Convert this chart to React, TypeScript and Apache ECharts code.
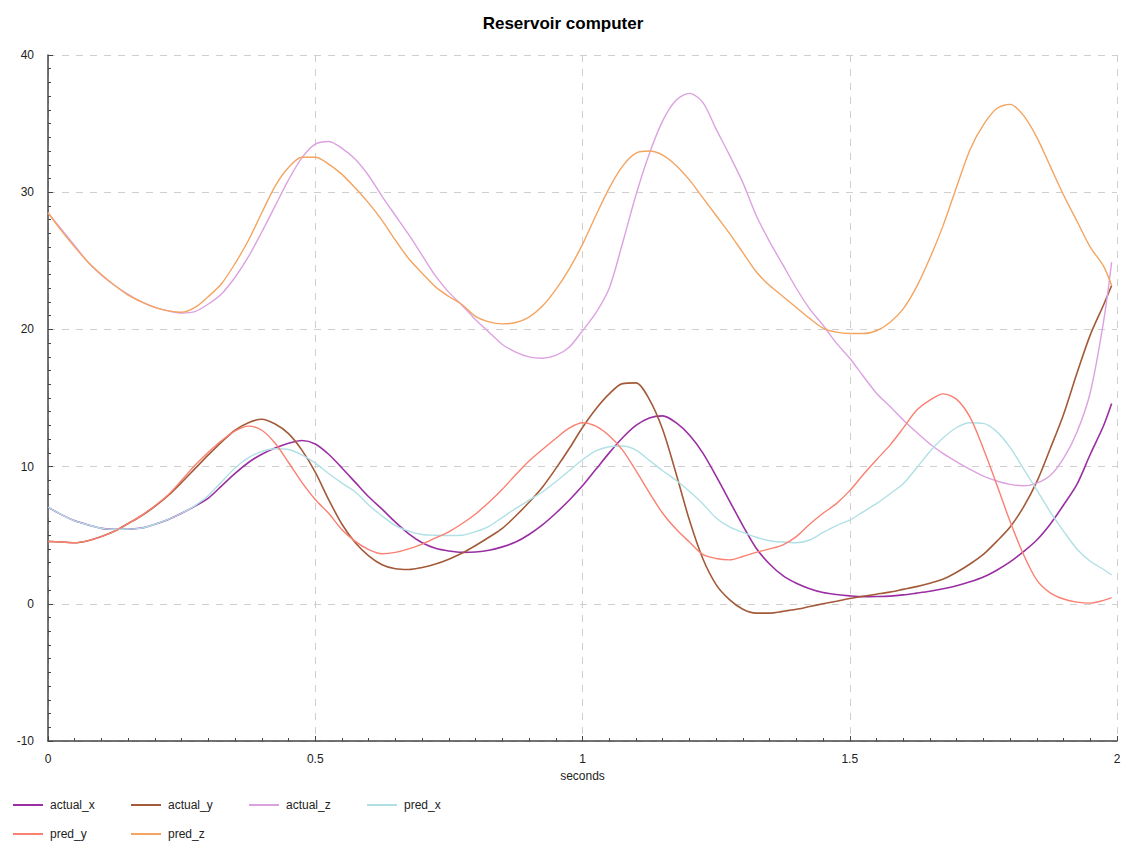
import React, { useEffect, useRef } from "react";
import * as echarts from "echarts";

const times: number[] = [
  0, 0.025, 0.05, 0.075, 0.1, 0.125, 0.15, 0.175, 0.2, 0.225, 0.25, 0.275, 0.3, 0.325, 0.35, 0.375,
  0.4, 0.425, 0.45, 0.475, 0.5, 0.525, 0.55, 0.575, 0.6, 0.625, 0.65, 0.675, 0.7, 0.725, 0.75, 0.775,
  0.8, 0.825, 0.85, 0.875, 0.9, 0.925, 0.95, 0.975, 1.0, 1.025, 1.05, 1.075, 1.1, 1.125, 1.15, 1.175,
  1.2, 1.225, 1.25, 1.275, 1.3, 1.325, 1.35, 1.375, 1.4, 1.425, 1.45, 1.475, 1.5, 1.525, 1.55, 1.575,
  1.6, 1.625, 1.65, 1.675, 1.7, 1.725, 1.75, 1.775, 1.8, 1.825, 1.85, 1.875, 1.9, 1.925, 1.95, 1.975, 1.99,
];

const actualX: number[] = [
  7.05, 6.5, 6.05, 5.75, 5.5, 5.43, 5.45, 5.52, 5.8, 6.15, 6.6, 7.12, 7.7, 8.6, 9.5, 10.3,
  10.9, 11.35, 11.7, 11.9, 11.65, 10.9, 9.9, 8.85, 7.8, 6.9, 5.95, 5.1, 4.45, 4.05, 3.85, 3.75,
  3.78, 3.9, 4.15, 4.5, 5.05, 5.75, 6.6, 7.55, 8.6, 9.8, 11.0, 12.1, 13.0, 13.55, 13.7, 13.2,
  12.3, 11.0, 9.3, 7.5, 5.7, 4.05, 2.9, 2.05, 1.5, 1.1, 0.82, 0.68, 0.58, 0.52, 0.53, 0.56,
  0.65, 0.78, 0.92, 1.1, 1.32, 1.6, 1.95, 2.45, 3.05, 3.8, 4.65, 5.8, 7.2, 8.7, 10.9, 13.0, 14.6,
];

const actualY: number[] = [
  4.55, 4.5, 4.45, 4.6, 4.9, 5.3, 5.85, 6.42, 7.1, 7.9, 8.85, 9.85, 10.85, 11.8, 12.65, 13.2,
  13.45, 13.1, 12.4, 11.2, 9.6, 7.6, 5.8, 4.45, 3.5, 2.85, 2.55, 2.5, 2.65, 2.9, 3.25, 3.7,
  4.25, 4.85, 5.5, 6.4, 7.4, 8.5, 9.85, 11.3, 12.85, 14.2, 15.3, 16.05, 16.1, 14.9, 12.7, 9.5,
  6.1, 3.3, 1.4, 0.3, -0.4, -0.68, -0.68, -0.55, -0.4, -0.2, 0.0, 0.18, 0.38, 0.55, 0.7, 0.85,
  1.05, 1.25, 1.5, 1.8, 2.3, 2.9, 3.6, 4.55, 5.6, 7.05, 8.9, 11.3, 13.8, 16.8, 19.6, 21.8, 23.2,
];

const actualZ: number[] = [
  28.5, 27.3, 26.1, 24.9, 23.95, 23.2, 22.55, 22.0, 21.6, 21.35, 21.2, 21.3, 21.85, 22.6, 23.8, 25.3,
  27.1, 29.0, 30.9, 32.5, 33.5, 33.7, 33.2, 32.4, 31.2, 29.7, 28.3, 26.9, 25.4, 23.9, 22.7, 21.75,
  20.7, 19.8, 18.9, 18.35, 18.0, 17.9, 18.1, 18.7, 19.9, 21.2, 23.0, 26.3, 29.8, 32.8, 35.2, 36.7,
  37.2, 36.55, 34.6, 32.7, 30.7, 28.3, 26.4, 24.7, 23.0, 21.5, 20.3, 19.0, 17.9, 16.6, 15.35, 14.4,
  13.4, 12.5, 11.65, 10.95, 10.35, 9.8, 9.3, 8.95, 8.7, 8.6, 8.8, 9.35, 10.6, 12.5, 15.4, 20.6, 24.9,
];

const predX: number[] = [
  7.05, 6.5, 6.05, 5.75, 5.5, 5.43, 5.45, 5.52, 5.8, 6.15, 6.6, 7.15, 7.9, 8.9, 9.9, 10.65,
  11.1, 11.3, 11.25, 10.85, 10.25, 9.5, 8.8, 8.15, 7.2, 6.4, 5.7, 5.3, 5.05, 5.0, 4.98, 5.0,
  5.25, 5.65, 6.3, 6.95, 7.55, 8.15, 8.9, 9.7, 10.5, 11.15, 11.45, 11.5, 11.2, 10.45, 9.7, 9.0,
  8.2, 7.3, 6.25, 5.6, 5.2, 4.85, 4.6, 4.5, 4.45, 4.65, 5.2, 5.7, 6.1, 6.7, 7.3, 8.0,
  8.75, 9.9, 11.1, 12.1, 12.85, 13.2, 13.15, 12.55, 11.4, 9.85, 8.3, 6.7, 5.3, 4.0, 3.1, 2.5, 2.1,
];

const predY: number[] = [
  4.55, 4.5, 4.45, 4.6, 4.9, 5.3, 5.85, 6.45, 7.15, 7.95, 9.0, 10.1, 11.05, 11.9, 12.6, 12.95,
  12.65, 11.7, 10.3, 8.85, 7.6, 6.6, 5.4, 4.55, 3.95, 3.65, 3.75, 4.0, 4.35, 4.8, 5.25, 5.85,
  6.55, 7.4, 8.35, 9.4, 10.4, 11.25, 12.05, 12.8, 13.2, 12.95, 12.25, 11.2, 9.7, 8.1, 6.6, 5.45,
  4.5, 3.6, 3.3, 3.2, 3.45, 3.75, 4.0, 4.3, 4.9, 5.8, 6.6, 7.3, 8.25, 9.4, 10.5, 11.55,
  12.8, 14.1, 14.85, 15.3, 14.9, 13.6, 11.3, 8.7, 6.0, 3.6, 1.73, 0.8, 0.35, 0.12, 0.05, 0.25, 0.45,
];

const predZ: number[] = [
  28.5, 27.2, 26.0, 24.9, 24.0, 23.2, 22.5, 22.0, 21.6, 21.35, 21.25, 21.6, 22.4, 23.35, 24.8, 26.5,
  28.5, 30.45, 31.8, 32.55, 32.55, 32.05, 31.3, 30.3, 29.2, 27.95, 26.5, 25.15, 24.1, 23.1, 22.4, 21.8,
  20.95, 20.55, 20.4, 20.5, 20.9, 21.7, 22.9, 24.4, 26.2, 28.3, 30.3, 31.9, 32.85, 33.0, 32.7, 31.95,
  30.9, 29.6, 28.3, 27.0, 25.6, 24.2, 23.2, 22.4, 21.6, 20.8, 20.1, 19.8, 19.7, 19.7, 19.9, 20.5,
  21.5, 23.1, 25.2, 27.6, 30.4, 33.1, 34.9, 36.1, 36.4, 35.6, 34.0, 31.9, 29.8, 27.9, 26.0, 24.6, 23.2,
];

const seriesNames: string[] = ["actual_x", "actual_y", "actual_z", "pred_x", "pred_y", "pred_z"];
const seriesValues: number[][] = [actualX, actualY, actualZ, predX, predY, predZ];
const seriesColors: string[] = ["#9a2fa3", "#a35a38", "#dca2e0", "#b0e0e6", "#fa8072", "#f4a460"];

const FONT = "'Liberation Sans', Arial, sans-serif";

export default function App() {
  const ref = useRef<HTMLDivElement>(null);
  useEffect(() => {
    if (!ref.current) return;
    const chart = echarts.init(ref.current, null, { renderer: "svg" });
    chart.setOption({
      animation: false,
      backgroundColor: "#ffffff",
      title: {
        text: "Reservoir computer",
        left: "center",
        top: 10,
        textStyle: { fontFamily: FONT, fontSize: 17, fontWeight: "bold", color: "#000" },
      },
      grid: { left: 48, right: 9, top: 55, bottom: 102, containLabel: false },
      legend: {
        left: 13,
        top: 797,
        padding: 0,
        width: 480,
        itemWidth: 30,
        itemHeight: 2,
        itemGap: 13,
        icon: "rect",
        data: seriesNames,
        textStyle: {
          fontFamily: FONT,
          fontSize: 12,
          color: "#222",
          width: 68,
          lineHeight: 16,
          padding: [0, 0, 0, 2],
        },
      },
      xAxis: {
        type: "value",
        min: 0,
        max: 2,
        interval: 0.5,
        name: "seconds",
        nameLocation: "middle",
        nameGap: 28,
        nameTextStyle: { fontFamily: FONT, fontSize: 12, color: "#222" },
        axisLine: { show: true, onZero: false, lineStyle: { color: "#444", width: 1.5 } },
        axisTick: { show: true, inside: true, length: 5, lineStyle: { color: "#444" } },
        minorTick: { show: true, splitNumber: 10, length: 3, lineStyle: { color: "#444" } },
        axisLabel: { fontFamily: FONT, fontSize: 12, color: "#222", margin: 12 },
        splitLine: { show: true, lineStyle: { color: "#cfcfcf", type: [7, 7], width: 1 } },
      },
      yAxis: {
        type: "value",
        min: -10,
        max: 40,
        interval: 10,
        axisLine: { show: true, onZero: false, lineStyle: { color: "#444", width: 1.5 } },
        axisTick: { show: true, inside: true, length: 5, lineStyle: { color: "#444" } },
        minorTick: { show: true, splitNumber: 10, length: 3, lineStyle: { color: "#444" } },
        axisLabel: { fontFamily: FONT, fontSize: 12, color: "#222", margin: 14 },
        splitLine: { show: true, lineStyle: { color: "#cfcfcf", type: [7, 7], width: 1 } },
      },
      series: seriesNames.map((name, k) => ({
        name,
        type: "line",
        showSymbol: false,
        smooth: 0.3,
        color: seriesColors[k],
        lineStyle: { width: k < 2 ? 1.6 : 1.4, color: seriesColors[k] },
        data: times.map((t, i) => [t, seriesValues[k][i]]),
      })),
    });
    return () => chart.dispose();
  }, []);
  return (
    <div
      ref={ref}
      style={{ position: "fixed", left: 0, top: 0, width: 1126, height: 843, background: "#fff" }}
    />
  );
}
